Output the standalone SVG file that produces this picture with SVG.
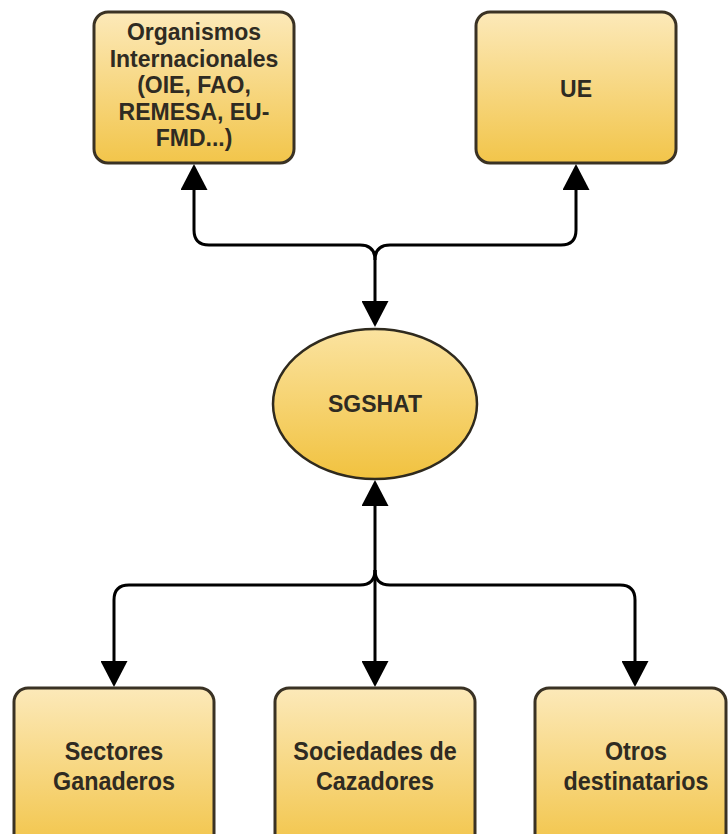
<svg xmlns="http://www.w3.org/2000/svg" width="728" height="834" viewBox="0 0 728 834">
<defs>
<linearGradient id="gBox" x1="0" y1="0" x2="0" y2="1">
<stop offset="0" stop-color="#fce9b9"/>
<stop offset="1" stop-color="#f2c54a"/>
</linearGradient>
<linearGradient id="gEll" x1="0" y1="0" x2="0" y2="1">
<stop offset="0" stop-color="#fbe3a0"/>
<stop offset="1" stop-color="#f1c23f"/>
</linearGradient>
<marker id="arr" markerUnits="userSpaceOnUse" viewBox="0 0 26 27" markerWidth="26" markerHeight="27" refX="1" refY="13.5" orient="auto-start-reverse">
<path d="M0,0 L26,13.5 L0,27 Z" fill="#000"/>
</marker>
<style>
.box{fill:url(#gBox);stroke:#3a3224;stroke-width:3}
.ell{fill:url(#gEll);stroke:#2f2a1e;stroke-width:2.5}
.t{font-family:"Liberation Sans",Arial,sans-serif;font-size:23px;font-weight:bold;fill:#2f2b22;text-anchor:middle}
.tb{font-family:"Liberation Sans",Arial,sans-serif;font-size:26.5px;font-weight:bold;fill:#2f2b22;text-anchor:middle}
.c{fill:none;stroke:#000;stroke-width:3}
</style>
</defs>
<rect width="728" height="834" fill="#fff"/>
<g id="connectors">
<path class="c" d="M194,189 V230 Q194,245 209,245 H360 Q375,245 375,260 V302" marker-start="url(#arr)" marker-end="url(#arr)"/>
<path class="c" d="M576,189 V230 Q576,245 561,245 H390 Q375,245 375,260" marker-start="url(#arr)"/>
<path class="c" d="M375,505 V662" marker-start="url(#arr)" marker-end="url(#arr)"/>
<path class="c" d="M375,570 Q375,585 360,585 H129 Q114,585 114,600 V662" marker-end="url(#arr)"/>
<path class="c" d="M375,570 Q375,585 390,585 H620 Q635,585 635,600 V662" marker-end="url(#arr)"/>
</g>
<g id="organismos">
<rect class="box" x="94" y="12" width="200" height="151" rx="14"/>
<text class="t" x="194" y="40">Organismos</text>
<text class="t" x="194" y="66.5">Internacionales</text>
<text class="t" x="194" y="93">(OIE, FAO,</text>
<text class="t" x="194" y="119.5">REMESA, EU-</text>
<text class="t" x="194" y="146">FMD...)</text>
</g>
<g id="ue">
<rect class="box" x="476" y="12" width="200" height="151" rx="14"/>
<text class="t" x="576" y="97">UE</text>
</g>
<g id="sgshat">
<ellipse class="ell" cx="375" cy="404" rx="102" ry="75"/>
<text class="t" x="375" y="412">SGSHAT</text>
</g>
<g id="sectores">
<rect class="box" x="14" y="688" width="200" height="160" rx="14"/>
<g transform="translate(114,0) scale(0.88,1)">
<text class="tb" x="0" y="760.5">Sectores</text>
<text class="tb" x="0" y="790.5">Ganaderos</text>
</g>
</g>
<g id="sociedades">
<rect class="box" x="275" y="688" width="200" height="160" rx="14"/>
<g transform="translate(375,0) scale(0.88,1)">
<text class="tb" x="0" y="760.5">Sociedades de</text>
<text class="tb" x="0" y="790.5">Cazadores</text>
</g>
</g>
<g id="otros">
<rect class="box" x="535" y="688" width="191" height="160" rx="14"/>
<g transform="translate(636,0) scale(0.88,1)">
<text class="tb" x="0" y="760.5">Otros</text>
<text class="tb" x="0" y="790.5">destinatarios</text>
</g>
</g>
</svg>
